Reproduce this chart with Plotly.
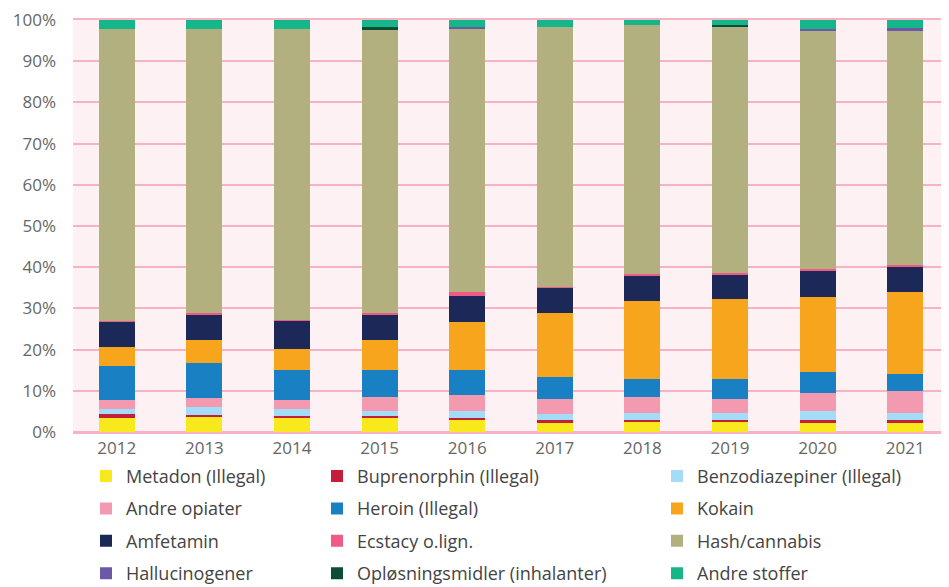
import plotly.graph_objects as go

years = ["2012", "2013", "2014", "2015", "2016", "2017", "2018", "2019", "2020", "2021"]

metadon = [3.5, 3.8, 3.5, 3.5, 2.9, 2.1, 2.5, 2.5, 2.1, 2.1]
buprenorphin = [0.8, 0.4, 0.4, 0.4, 0.6, 0.8, 0.4, 0.4, 0.8, 0.8]
benzodiazepiner = [1.3, 1.9, 1.7, 1.2, 1.6, 1.4, 1.8, 1.8, 2.2, 1.8]
andre_opiater = [2.1, 2.1, 2.1, 3.5, 3.9, 3.8, 3.9, 3.4, 4.4, 5.2]
heroin = [8.2, 8.5, 7.3, 6.4, 6.0, 5.2, 4.3, 4.8, 5.1, 4.2]
kokain = [4.7, 5.7, 5.2, 7.4, 11.7, 15.6, 19.0, 19.4, 18.1, 19.9]
amfetamin = [6.1, 6.1, 6.8, 6.1, 6.4, 6.1, 6.0, 6.0, 6.5, 6.0]
ecstacy = [0.3, 0.4, 0.3, 0.4, 1.0, 0.3, 0.4, 0.4, 0.4, 0.5]
hash_cannabis = [70.8, 68.9, 70.5, 68.9, 63.8, 63.0, 60.5, 59.6, 57.8, 56.9]
hallucinogener = [0.0, 0.0, 0.0, 0.0, 0.5, 0.0, 0.0, 0.0, 0.4, 0.6]
oplosningsmidler = [0.0, 0.0, 0.0, 0.4, 0.0, 0.0, 0.0, 0.5, 0.0, 0.0]
andre_stoffer = [2.2, 2.2, 2.2, 1.8, 1.6, 1.7, 1.2, 1.2, 2.2, 2.0]

y_ticks = [0, 10, 20, 30, 40, 50, 60, 70, 80, 90, 100]
y_tick_labels = ["0%", "10%", "20%", "30%", "40%", "50%", "60%", "70%", "80%", "90%", "100%"]

series = [
    ("Metadon (Illegal)", metadon, "#f7e91c", "legend"),
    ("Andre opiater", andre_opiater, "#f49ab0", "legend"),
    ("Amfetamin", amfetamin, "#1b2858", "legend"),
    ("Hallucinogener", hallucinogener, "#6b58a6", "legend"),
    ("Buprenorphin (Illegal)", buprenorphin, "#c41e3a", "legend2"),
    ("Heroin (Illegal)", heroin, "#1a80c4", "legend2"),
    ("Ecstacy o.lign.", ecstacy, "#ef5a86", "legend2"),
    ("Opløsningsmidler (inhalanter)", oplosningsmidler, "#0c4d38", "legend2"),
    ("Benzodiazepiner (Illegal)", benzodiazepiner, "#a3dcf7", "legend3"),
    ("Kokain", kokain, "#f7a51c", "legend3"),
    ("Hash/cannabis", hash_cannabis, "#b3b07f", "legend3"),
    ("Andre stoffer", andre_stoffer, "#15b68a", "legend3"),
]
stack_order = ["Metadon (Illegal)", "Buprenorphin (Illegal)", "Benzodiazepiner (Illegal)",
               "Andre opiater", "Heroin (Illegal)", "Kokain", "Amfetamin", "Ecstacy o.lign.",
               "Hash/cannabis", "Hallucinogener", "Opløsningsmidler (inhalanter)", "Andre stoffer"]
lookup = {s[0]: s for s in series}
names_in_legend_order = [s[0] for s in series]

fig = go.Figure()
for name in stack_order:
    _, vals, col, leg = lookup[name]
    fig.add_trace(go.Bar(
        x=years, y=vals, name=name, marker=dict(color=col, line=dict(width=0)),
        legend=leg, legendgroup=name, legendrank=names_in_legend_order.index(name),
    ))

FONT = "Open Sans"
GRID = "#f5b3c4"
leg_common = dict(orientation="v", traceorder="grouped", tracegroupgap=6,
                  font=dict(family=FONT, size=18, color="#444"),
                  bgcolor="rgba(0,0,0,0)", yanchor="top", xanchor="left", y=-0.0626)

# page body has an 8px default margin; figure is sized to compensate
W, H = 941, 610
L, R, T, B = 65, 0, 12, 186
pw = W - L - R
OFF = 8

def px(page_x):
    return (page_x - OFF - L) / pw

fig.update_layout(
    width=W, height=H,
    barmode="stack", bargap=0.59,
    margin=dict(l=L, r=R, t=T, b=B),
    paper_bgcolor="white", plot_bgcolor="#fdf1f3",
    font=dict(family=FONT, size=17, color="#666"),
    legend=dict(x=px(86), **leg_common),
    legend2=dict(x=px(317), **leg_common),
    legend3=dict(x=px(657), **leg_common),
    xaxis=dict(showgrid=False, ticks="", tickfont=dict(size=17, color="#666"),
               showline=True, mirror=True, linecolor=GRID, linewidth=2,
               fixedrange=True, automargin=False),
    yaxis=dict(range=[0, 100], tickvals=y_ticks, ticktext=y_tick_labels,
               showgrid=True, gridcolor=GRID, gridwidth=2, zeroline=True,
               zerolinecolor=GRID, zerolinewidth=2, ticks="", ticklen=0,
               ticklabelstandoff=16, ticklabeloverflow="allow", automargin=False,
               tickfont=dict(size=17, color="#666"), fixedrange=True),
)

fig.write_html("out.html")
